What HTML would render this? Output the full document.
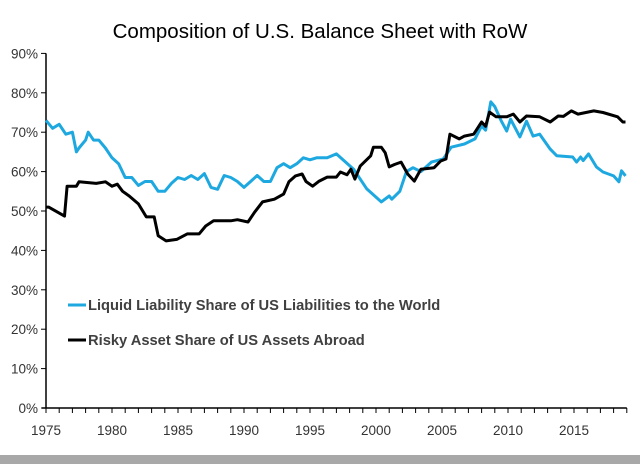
<!DOCTYPE html>
<html><head><meta charset="utf-8"><style>
body{margin:0;background:#fff;}
svg{display:block;font-family:"Liberation Sans",sans-serif;}
</style></head><body>
<svg width="640" height="464">
<text x="320" y="38" text-anchor="middle" font-size="20.5" fill="#000">Composition of U.S. Balance Sheet with RoW</text>
<g id="axes"></g>
<g id="series"></g>
<g>
<line x1="68" y1="305" x2="86" y2="305" stroke="#1ea8e0" stroke-width="3"/>
<text x="88" y="310" font-size="14.7" font-weight="bold" fill="#404040">Liquid Liability Share of US Liabilities to the World</text>
<line x1="68" y1="340" x2="86" y2="340" stroke="#000" stroke-width="3"/>
<text x="88" y="345" font-size="14.7" font-weight="bold" fill="#404040">Risky Asset Share of US Assets Abroad</text>
</g>
<rect x="0" y="455" width="640" height="9" fill="#a8a8a8"/>
</svg>
<script>
const liquidYears=[1975,1975.5,1976,1976.5,1977,1977.3,1977.5,1978,1978.2,1978.6,1979,1979.5,1980,1980.5,1981,1981.5,1982,1982.5,1983,1983.5,1984,1984.5,1985,1985.5,1986,1986.5,1987,1987.5,1988,1988.5,1989,1989.5,1990,1990.5,1991,1991.5,1992,1992.5,1993,1993.5,1994,1994.5,1995,1995.5,1996.3,1997,1998.3,1999.3,2000.4,2001,2001.2,2001.8,2002.3,2002.8,2003.4,2004.2,2005.1,2005.7,2006.7,2007.5,2008,2008.3,2008.7,2009,2009.5,2009.9,2010.2,2010.9,2011.4,2011.9,2012.4,2013.2,2013.7,2014.9,2015.2,2015.5,2015.7,2016.1,2016.7,2017.2,2018,2018.4,2018.6,2018.9];
const liquidValues=[73,71,72,69.5,70,65,66,68,70,68,68,66,63.5,62,58.5,58.5,56.5,57.5,57.5,55,55,57,58.5,58,59,58,59.5,56,55.5,59,58.5,57.5,56,57.5,59,57.5,57.5,61,62,61,62,63.5,63,63.5,63.5,64.5,60.6,55.6,52.3,53.8,53,55,60,61,60,62.4,63.2,66.2,67,68.3,71.6,70.5,77.7,76.5,72.8,70.3,73.3,68.8,72.8,69,69.5,65.7,64,63.7,62.4,63.7,62.8,64.5,61.2,59.9,58.9,57.4,60.2,58.9];
const riskyYears=[1975,1975.2,1976.4,1976.6,1977.3,1977.5,1978.8,1979.5,1980,1980.4,1980.8,1981.3,1982,1982.6,1983.2,1983.5,1984.1,1984.9,1985.7,1986.6,1987.1,1987.7,1989,1989.5,1990.3,1990.8,1991.4,1992.3,1993,1993.4,1993.9,1994.4,1994.7,1995.2,1995.7,1996.3,1997,1997.3,1997.8,1998.1,1998.4,1998.8,1999.6,1999.8,2000.4,2000.7,2001,2001.4,2001.9,2002.4,2002.9,2003.4,2004.4,2004.9,2005.3,2005.6,2006.3,2006.7,2007.4,2008,2008.3,2008.6,2009.1,2009.9,2010.4,2010.9,2011.4,2012.4,2013.2,2013.8,2014.2,2014.8,2015.3,2016.5,2017.2,2018.3,2018.7,2018.9];
const riskyValues=[51,51,48.7,56.3,56.3,57.4,57,57.4,56.3,56.8,55,53.8,51.8,48.5,48.5,43.7,42.4,42.8,44.2,44.2,46.2,47.5,47.5,47.8,47.2,49.7,52.3,53,54.3,57.4,58.9,59.4,57.5,56.3,57.6,58.6,58.6,59.9,59.2,60.6,58.1,61.4,64,66.2,66.2,64.8,61.2,61.8,62.4,59.4,57.6,60.6,61,62.7,63.2,69.5,68.3,69,69.5,72.6,71.5,75.1,73.9,73.9,74.6,72.6,74.1,73.9,72.6,74.1,74,75.4,74.6,75.4,75,73.9,72.6,72.6];
const yTicks=[0,10,20,30,40,50,60,70,80,90];
const xTickLabels=[1975,1980,1985,1990,1995,2000,2005,2010,2015];
const NS="http://www.w3.org/2000/svg";
const X0=46,PX=13.2,Y0=408,PY=3.94;
function xs(yr){return X0+(yr-1975)*PX;}
function ys(v){return Y0-v*PY;}
const axes=document.getElementById('axes');
function mk(tag,attrs,parent){const e=document.createElementNS(NS,tag);for(const k in attrs)e.setAttribute(k,attrs[k]);parent.appendChild(e);return e;}
let yl=mk('line',{x1:X0,y1:ys(90),x2:X0,y2:Y0,stroke:'#000','stroke-width':1.5},axes);


let xl=mk('line',{x1:X0-4,y1:Y0,x2:xs(2019),y2:Y0,stroke:'#000','stroke-width':1.5},axes);


yTicks.forEach(v=>{
 let t=mk('line',{x1:X0-5,y1:ys(v),x2:X0,y2:ys(v),stroke:'#000'},axes);
 
 
 let l=mk('text',{x:X0-8,y:ys(v)+5,'text-anchor':'end','font-size':13.5,fill:'#333'},axes);
 l.textContent=v+'%';
 
 
});
for(let yr=1975;yr<=2019;yr++){
 let t=mk('line',{x1:xs(yr),y1:Y0,x2:xs(yr),y2:Y0+5,stroke:'#000'},axes);
 
 
}
xTickLabels.forEach(yr=>{
 let l=mk('text',{x:xs(yr),y:Y0+27,'text-anchor':'middle','font-size':13.5,fill:'#333'},axes);
 l.textContent=yr;
 
 
});
const series=document.getElementById('series');
function draw(yrs,vals,color,name){
 const d=yrs.map((y,i)=>(i?'L':'M')+xs(y).toFixed(1)+','+ys(vals[i]).toFixed(1)).join('');
 let p=mk('path',{d:d,fill:'none',stroke:color,'stroke-width':3,'stroke-linejoin':'round'},series);
 
 
}
draw(liquidYears,liquidValues,'#1ea8e0','liquid-liability-line');
draw(riskyYears,riskyValues,'#000','risky-asset-line');
</script>
</body></html>
